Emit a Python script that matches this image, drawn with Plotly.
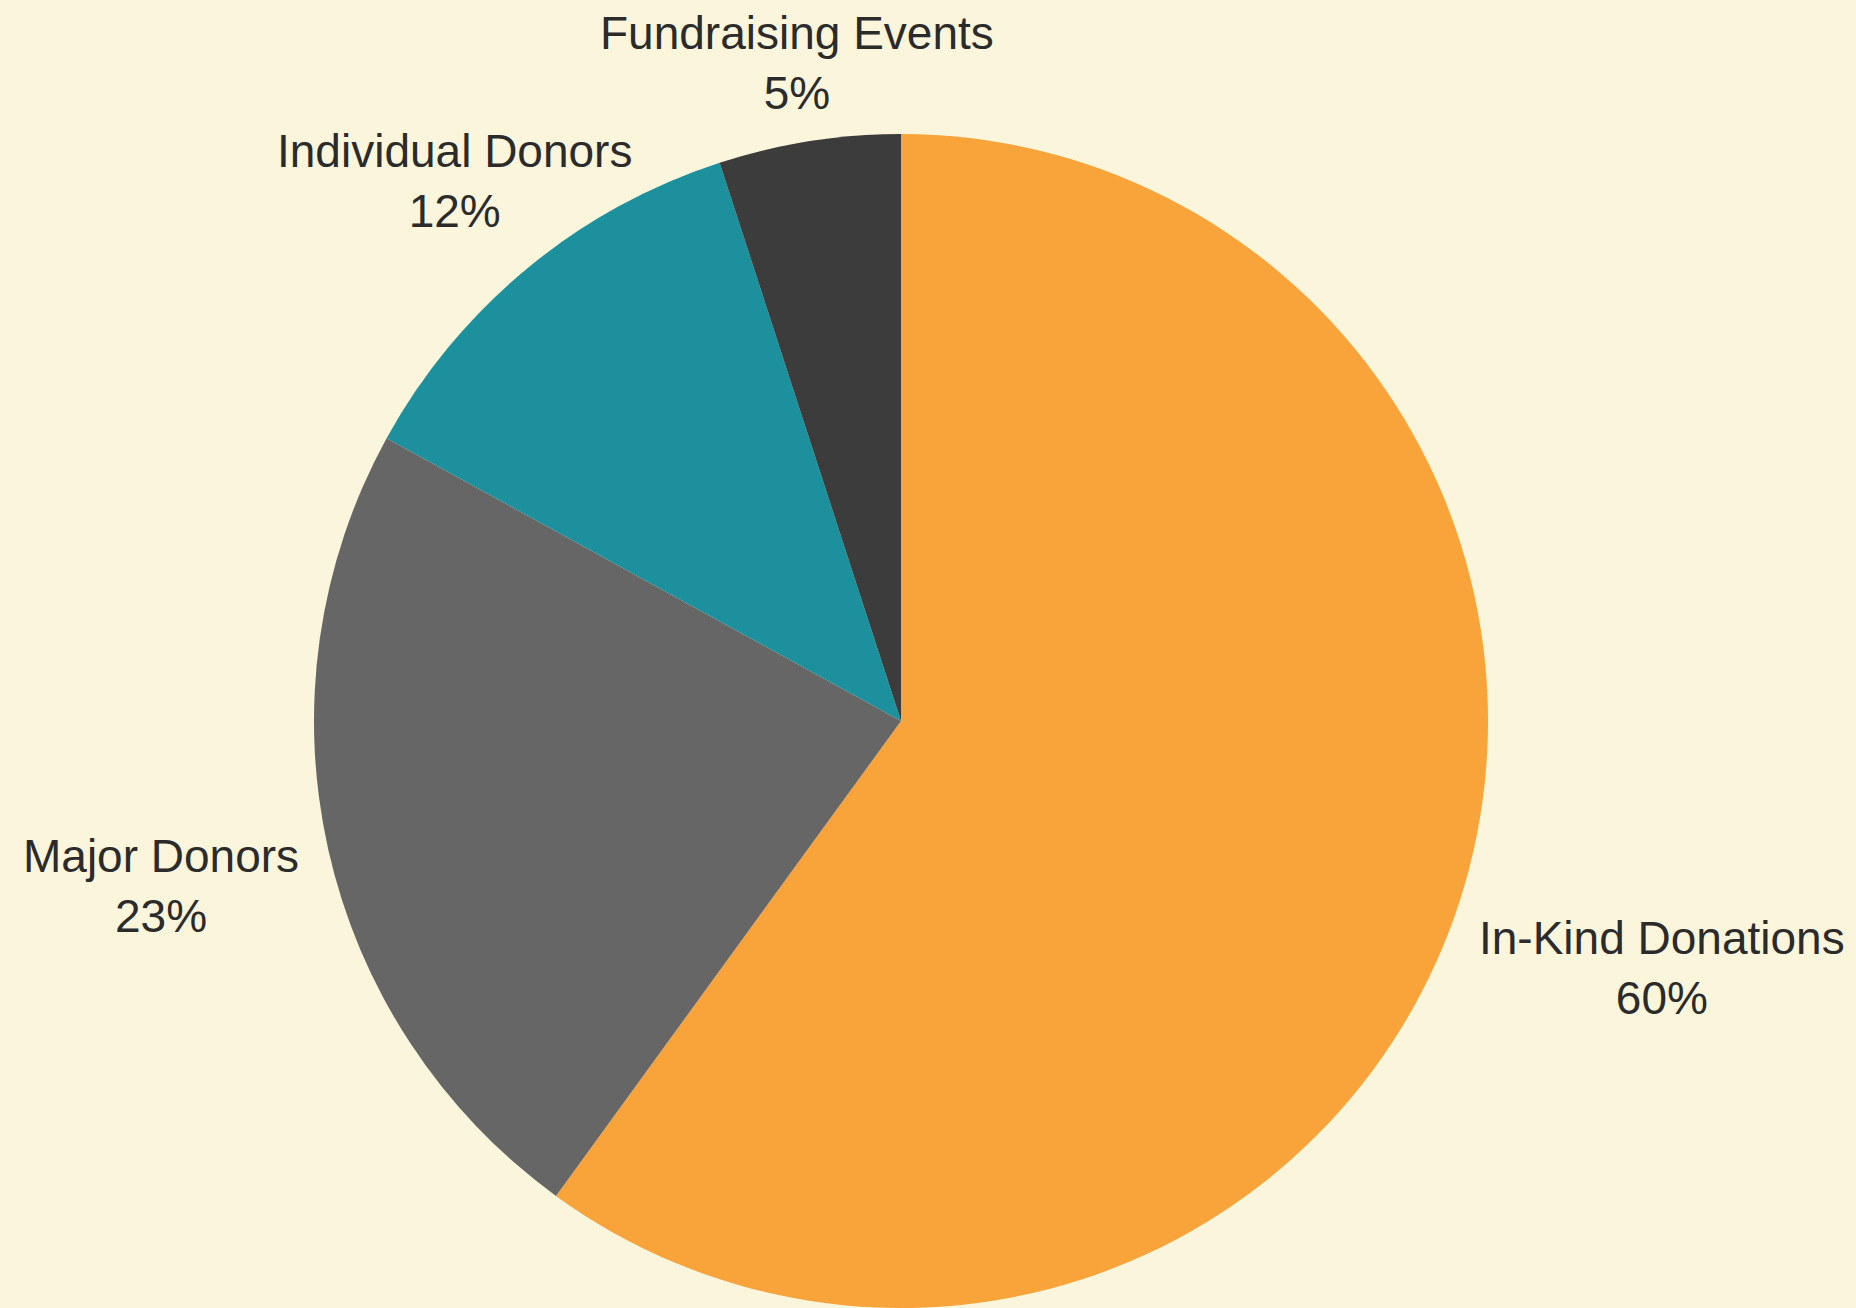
import math
import plotly.graph_objects as go

categories = ["In-Kind Donations", "Major Donors", "Individual Donors", "Fundraising Events"]
values = [60, 23, 12, 5]
colors = ["#F9A33B", "#666666", "#1C909C", "#3C3C3C"]

# layout tuning: distance (px) from pie centre to each label block centre
label_dist = [800, 758, 701, 666]

W, H = 1856, 1308
ML, MR, MT, MB = 0, 54, 134, 0
pw, ph = W - ML - MR, H - MT - MB
cx, cy = ML + pw / 2, MT + ph / 2

fig = go.Figure(go.Pie(
    labels=categories,
    values=values,
    sort=False,
    direction="clockwise",
    rotation=0,
    marker=dict(colors=colors, line=dict(width=0)),
    textinfo="none",
    showlegend=False,
    hoverinfo="label+percent",
))

total = sum(values)
cum = 0
annotations = []
for lab, v, d in zip(categories, values, label_dist):
    mid = 2 * math.pi * (cum + v / 2) / total
    cum += v
    px = cx + d * math.sin(mid)
    py = cy - d * math.cos(mid)
    annotations.append(dict(
        x=(px - ML) / pw, y=(H - MB - py) / ph,
        xref="paper", yref="paper",
        text=f"{lab}<br>{round(100 * v / total)}%",
        showarrow=False, xanchor="center", yanchor="middle", align="center",
        font=dict(family="Liberation Sans, Arial, sans-serif", size=46, color="#2B2B2B"),
    ))

fig.update_layout(
    width=W,
    height=H,
    paper_bgcolor="#FBF5DC",
    plot_bgcolor="#FBF5DC",
    margin=dict(l=ML, r=MR, t=MT, b=MB),
    annotations=annotations,
)

fig.write_html(
    "out.html",
    config={"displayModeBar": False},
    post_script="document.body.style.margin='0';document.body.style.background='#FBF5DC';document.body.style.overflow='hidden';",
)
